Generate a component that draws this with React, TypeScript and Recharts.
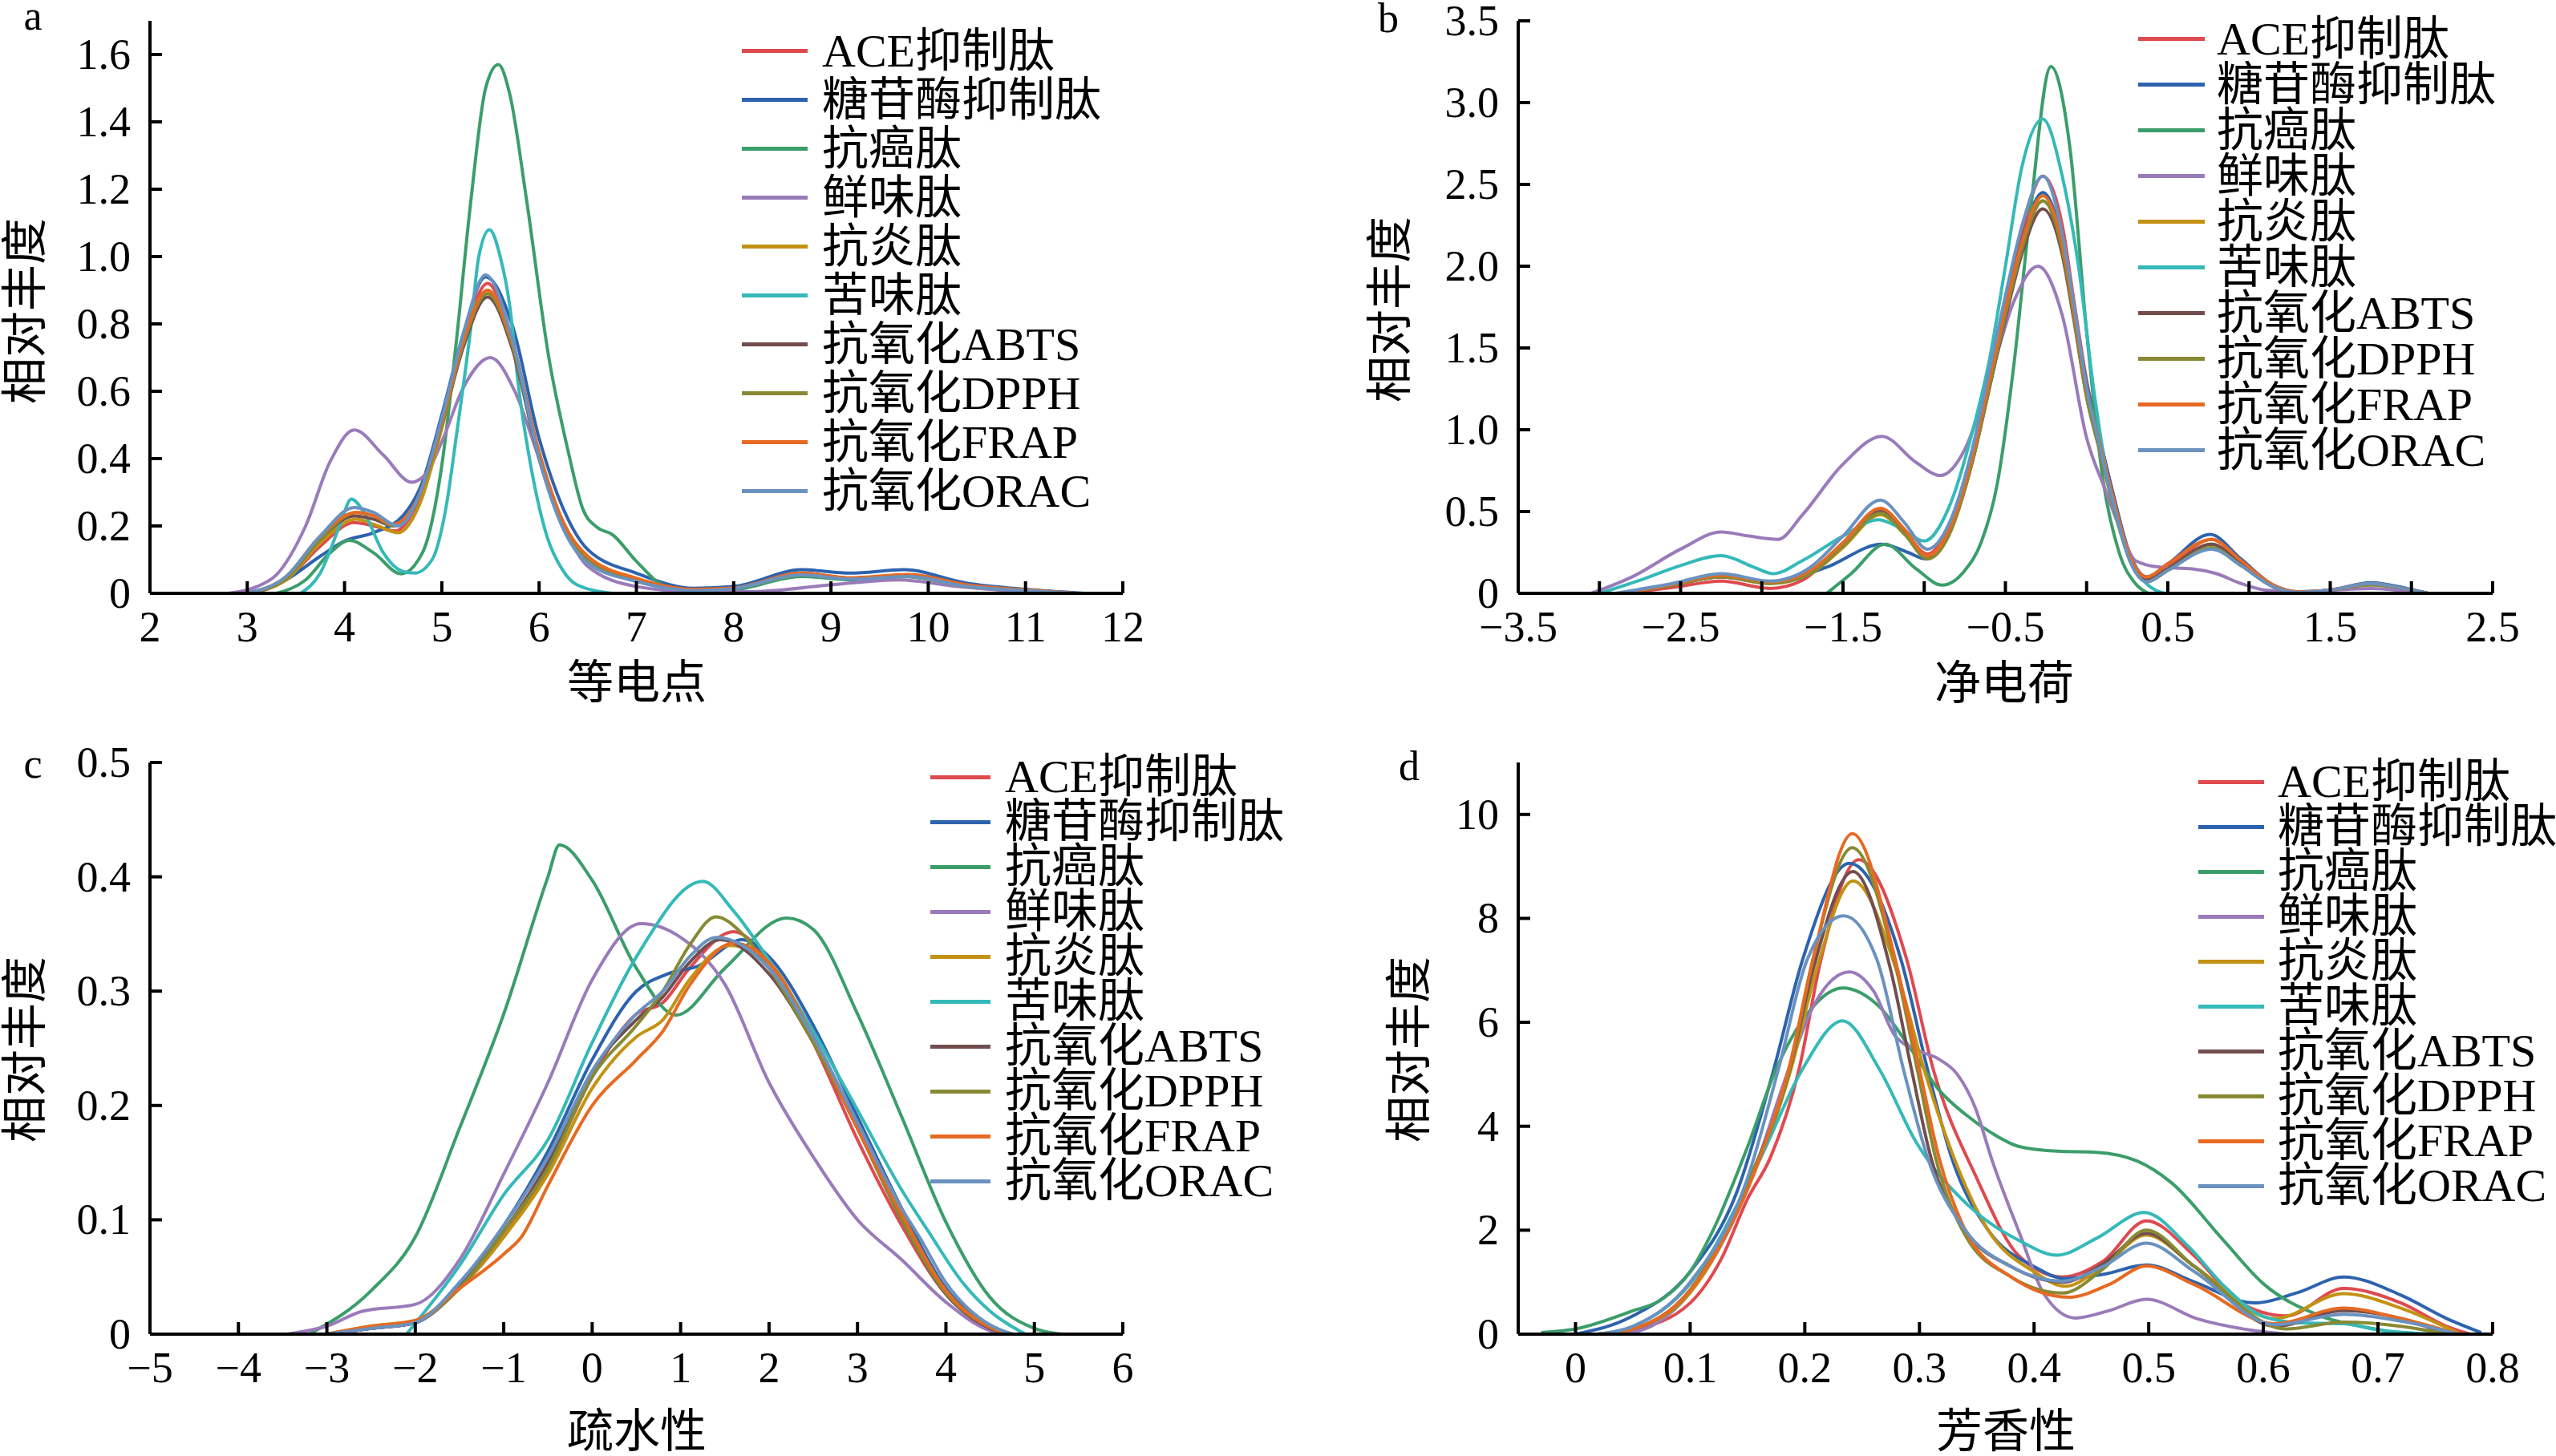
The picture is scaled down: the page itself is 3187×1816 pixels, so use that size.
import React from 'react';
import { LineChart, Line, XAxis, YAxis, Legend } from 'recharts';

// ---------- series meta ----------
const seriesNames = ['ACE抑制肽', '糖苷酶抑制肽', '抗癌肽', '鲜味肽', '抗炎肽', '苦味肽', '抗氧化ABTS', '抗氧化DPPH', '抗氧化FRAP', '抗氧化ORAC'];
const seriesColors = ['#DF4A4F', '#2D63AE', '#3B9E6A', '#9A7BBA', '#C39212', '#35B9B9', '#734E4F', '#878A33', '#E66A22', '#6A92C0'];

// ---------- panel a : 等电点 ----------
const aXTicks = [2, 3, 4, 5, 6, 7, 8, 9, 10, 11, 12];
const aYTicks = [0, 0.2, 0.4, 0.6, 0.8, 1.0, 1.2, 1.4, 1.6];
const aACE = [[3.0,0],[3.4,0.04],[3.75,0.14],[4.1,0.21],[4.3,0.2],[4.52,0.185],[4.75,0.27],[5.0,0.5],[5.22,0.75],[5.47,0.92],[5.72,0.75],[6.0,0.41],[6.25,0.21],[6.5,0.1],[7.0,0.04],[7.6,0.01],[8.0,0.015],[8.7,0.06],[9.2,0.045],[9.8,0.055],[10.4,0.025],[11.0,0.01],[11.5,0]];
const aGlu = [[3.0,0],[3.4,0.04],[3.75,0.11],[4.0,0.155],[4.3,0.18],[4.6,0.23],[4.8,0.33],[5.0,0.53],[5.22,0.77],[5.45,0.94],[5.72,0.8],[6.0,0.46],[6.25,0.25],[6.5,0.13],[7.0,0.06],[7.6,0.015],[8.0,0.02],[8.7,0.07],[9.2,0.06],[9.75,0.07],[10.4,0.03],[11.0,0.012],[11.6,0]];
const aCancer = [[3.3,0],[3.6,0.04],[3.85,0.12],[4.05,0.157],[4.3,0.12],[4.58,0.058],[4.8,0.12],[5.0,0.38],[5.15,0.75],[5.3,1.17],[5.45,1.5],[5.58,1.57],[5.7,1.48],[5.87,1.17],[6.1,0.7],[6.3,0.42],[6.45,0.25],[6.6,0.195],[6.75,0.175],[7.0,0.095],[7.3,0.02],[7.6,0.005],[8.0,0.01],[8.7,0.05],[9.2,0.04],[9.75,0.05],[10.4,0.02],[11.0,0.005],[11.3,0]];
const aUmami = [[2.8,0],[3.1,0.02],[3.3,0.055],[3.6,0.2],[3.85,0.39],[4.1,0.485],[4.4,0.41],[4.69,0.33],[4.85,0.36],[5.0,0.45],[5.22,0.61],[5.5,0.70],[5.75,0.6],[6.0,0.4],[6.25,0.2],[6.5,0.08],[7.0,0.02],[7.6,0.005],[8.2,0.005],[9.0,0.025],[9.7,0.04],[10.3,0.02],[11.0,0.005],[11.5,0]];
const aAntiInf = [[3.0,0],[3.4,0.04],[3.75,0.15],[4.12,0.22],[4.3,0.205],[4.55,0.18],[4.78,0.27],[5.0,0.49],[5.22,0.74],[5.47,0.9],[5.72,0.74],[6.0,0.4],[6.25,0.2],[6.5,0.1],[7.0,0.04],[7.6,0.01],[8.0,0.015],[8.7,0.055],[9.2,0.045],[9.8,0.05],[10.4,0.02],[11.0,0.01],[11.5,0]];
const aBitter = [[3.55,0],[3.75,0.06],[3.95,0.2],[4.07,0.28],[4.2,0.24],[4.4,0.12],[4.6,0.065],[4.72,0.06],[4.9,0.1],[5.04,0.25],[5.16,0.49],[5.29,0.77],[5.38,1.0],[5.49,1.08],[5.6,1.0],[5.7,0.85],[5.79,0.61],[5.92,0.37],[6.08,0.17],[6.24,0.07],[6.39,0.025],[6.75,0]];
const aABTS = [[3.0,0],[3.4,0.045],[3.75,0.16],[4.1,0.23],[4.3,0.22],[4.5,0.2],[4.75,0.28],[5.0,0.5],[5.22,0.73],[5.47,0.88],[5.72,0.73],[6.0,0.4],[6.25,0.2],[6.5,0.1],[7.0,0.04],[7.6,0.01],[8.0,0.015],[8.7,0.058],[9.2,0.045],[9.8,0.052],[10.4,0.022],[11.0,0.01],[11.5,0]];
const aDPPH = [[3.0,0],[3.4,0.045],[3.75,0.16],[4.12,0.24],[4.3,0.23],[4.5,0.2],[4.75,0.28],[5.0,0.5],[5.22,0.74],[5.47,0.89],[5.72,0.74],[6.0,0.41],[6.25,0.2],[6.5,0.1],[7.0,0.04],[7.6,0.01],[8.0,0.015],[8.7,0.056],[9.2,0.044],[9.8,0.05],[10.4,0.02],[11.0,0.01],[11.5,0]];
const aFRAP = [[3.0,0],[3.4,0.05],[3.75,0.17],[4.12,0.24],[4.3,0.23],[4.5,0.205],[4.75,0.28],[5.0,0.51],[5.22,0.75],[5.47,0.9],[5.72,0.75],[6.0,0.42],[6.25,0.21],[6.5,0.11],[7.0,0.045],[7.6,0.012],[8.0,0.016],[8.7,0.06],[9.2,0.046],[9.8,0.056],[10.4,0.025],[11.0,0.01],[11.5,0]];
const aORAC = [[3.0,0],[3.4,0.05],[3.75,0.17],[4.1,0.255],[4.3,0.24],[4.55,0.2],[4.78,0.3],[5.0,0.52],[5.22,0.77],[5.45,0.945],[5.72,0.76],[6.0,0.4],[6.25,0.19],[6.5,0.09],[7.0,0.035],[7.6,0.008],[8.0,0.014],[8.7,0.055],[9.2,0.042],[9.8,0.05],[10.4,0.02],[11.0,0.008],[11.5,0]];

// ---------- panel b : 净电荷 ----------
const bXTicks = [-3.5, -3, -2.5, -2, -1.5, -1, -0.5, 0, 0.5, 1, 1.5, 2, 2.5];
const bXLabels = [-3.5, -2.5, -1.5, -0.5, 0.5, 1.5, 2.5];
const bYTicks = [0, 0.5, 1.0, 1.5, 2.0, 2.5, 3.0, 3.5];
const bACE = [[-2.85,0],[-2.55,0.035],[-2.25,0.075],[-1.95,0.03],[-1.75,0.08],[-1.55,0.25],[-1.27,0.5],[-1.12,0.38],[-0.98,0.24],[-0.85,0.4],[-0.7,0.86],[-0.6,1.3],[-0.5,1.75],[-0.4,2.2],[-0.27,2.55],[-0.15,2.25],[-0.08,1.8],[0,1.3],[0.08,0.95],[0.16,0.62],[0.27,0.22],[0.37,0.09],[0.5,0.16],[0.77,0.33],[0.95,0.19],[1.15,0.04],[1.3,0.005],[1.5,0.02],[1.75,0.06],[1.95,0.03],[2.1,0]];
const bGlu = [[-2.85,0],[-2.55,0.05],[-2.25,0.1],[-1.95,0.065],[-1.6,0.16],[-1.26,0.3],[-1.1,0.25],[-0.99,0.21],[-0.85,0.38],[-0.7,0.88],[-0.6,1.32],[-0.5,1.75],[-0.4,2.15],[-0.27,2.45],[-0.15,2.15],[-0.08,1.75],[0,1.28],[0.08,0.95],[0.16,0.62],[0.27,0.23],[0.37,0.1],[0.5,0.18],[0.76,0.36],[0.95,0.21],[1.15,0.05],[1.3,0.01],[1.5,0.02],[1.75,0.065],[1.95,0.035],[2.1,0]];
const bCancer = [[-1.6,0],[-1.45,0.12],[-1.24,0.3],[-1.05,0.15],[-0.89,0.05],[-0.75,0.14],[-0.65,0.31],[-0.55,0.67],[-0.45,1.38],[-0.35,2.3],[-0.22,3.22],[-0.1,2.7],[0,1.6],[0.1,0.7],[0.2,0.25],[0.3,0.06],[0.38,0]];
const bUmami = [[-3.05,0],[-2.8,0.1],[-2.5,0.27],[-2.25,0.375],[-2.08,0.35],[-1.9,0.33],[-1.75,0.48],[-1.5,0.79],[-1.26,0.96],[-1.05,0.8],[-0.9,0.72],[-0.75,0.88],[-0.6,1.3],[-0.45,1.78],[-0.3,2.0],[-0.15,1.7],[0,0.95],[0.12,0.62],[0.2,0.41],[0.3,0.2],[0.45,0.16],[0.65,0.15],[0.8,0.12],[0.95,0.06],[1.1,0.02],[1.3,0.01],[1.75,0.03],[2.05,0]];
const bAntiInf = [[-2.85,0],[-2.55,0.05],[-2.25,0.1],[-1.95,0.06],[-1.7,0.12],[-1.5,0.28],[-1.27,0.48],[-1.12,0.36],[-0.98,0.22],[-0.85,0.36],[-0.7,0.82],[-0.6,1.25],[-0.5,1.7],[-0.4,2.1],[-0.27,2.4],[-0.15,2.1],[-0.08,1.7],[0,1.22],[0.08,0.9],[0.16,0.58],[0.27,0.2],[0.37,0.08],[0.5,0.15],[0.77,0.3],[0.95,0.18],[1.15,0.04],[1.3,0.005],[1.5,0.02],[1.75,0.055],[1.95,0.03],[2.1,0]];
const bBitter = [[-3.0,0],[-2.75,0.08],[-2.5,0.17],[-2.25,0.23],[-2.05,0.16],[-1.93,0.12],[-1.75,0.2],[-1.5,0.35],[-1.28,0.45],[-1.15,0.4],[-1.0,0.32],[-0.85,0.52],[-0.7,1.0],[-0.6,1.42],[-0.5,2.0],[-0.4,2.6],[-0.27,2.9],[-0.15,2.55],[-0.05,2.0],[0.05,1.2],[0.15,0.6],[0.25,0.25],[0.35,0.08],[0.48,0]];
const bABTS = [[-2.85,0],[-2.55,0.05],[-2.25,0.1],[-1.95,0.065],[-1.7,0.13],[-1.5,0.3],[-1.27,0.5],[-1.12,0.37],[-0.98,0.22],[-0.85,0.36],[-0.7,0.82],[-0.6,1.25],[-0.5,1.68],[-0.4,2.07],[-0.27,2.35],[-0.15,2.07],[-0.08,1.68],[0,1.2],[0.08,0.88],[0.16,0.57],[0.27,0.2],[0.37,0.08],[0.5,0.15],[0.77,0.3],[0.95,0.18],[1.15,0.04],[1.3,0.005],[1.5,0.02],[1.75,0.055],[1.95,0.03],[2.1,0]];
const bDPPH = [[-2.85,0],[-2.55,0.05],[-2.25,0.1],[-1.95,0.06],[-1.7,0.12],[-1.5,0.29],[-1.27,0.49],[-1.12,0.36],[-0.98,0.21],[-0.85,0.35],[-0.7,0.82],[-0.6,1.26],[-0.5,1.7],[-0.4,2.1],[-0.27,2.4],[-0.15,2.1],[-0.08,1.7],[0,1.2],[0.08,0.87],[0.16,0.55],[0.27,0.19],[0.37,0.07],[0.5,0.14],[0.77,0.28],[0.95,0.17],[1.15,0.04],[1.3,0.005],[1.5,0.02],[1.75,0.05],[1.95,0.03],[2.1,0]];
const bFRAP = [[-2.85,0],[-2.55,0.055],[-2.25,0.11],[-1.95,0.07],[-1.7,0.14],[-1.5,0.31],[-1.27,0.52],[-1.12,0.39],[-0.98,0.23],[-0.85,0.38],[-0.7,0.85],[-0.6,1.3],[-0.5,1.74],[-0.4,2.14],[-0.27,2.43],[-0.15,2.14],[-0.08,1.74],[0,1.25],[0.08,0.92],[0.16,0.6],[0.27,0.22],[0.37,0.1],[0.5,0.18],[0.77,0.33],[0.95,0.2],[1.15,0.05],[1.3,0.008],[1.5,0.02],[1.75,0.06],[1.95,0.03],[2.1,0]];
const bORAC = [[-2.9,0],[-2.55,0.06],[-2.25,0.12],[-1.95,0.075],[-1.7,0.16],[-1.5,0.35],[-1.27,0.57],[-1.12,0.43],[-0.98,0.27],[-0.85,0.42],[-0.7,0.9],[-0.6,1.36],[-0.5,1.82],[-0.4,2.24],[-0.27,2.55],[-0.15,2.2],[-0.08,1.78],[0,1.26],[0.08,0.9],[0.16,0.57],[0.27,0.19],[0.37,0.07],[0.5,0.14],[0.77,0.27],[0.95,0.17],[1.15,0.04],[1.3,0.005],[1.5,0.02],[1.75,0.06],[1.95,0.03],[2.1,0]];

// ---------- panel c : 疏水性 ----------
const cXTicks = [-5, -4, -3, -2, -1, 0, 1, 2, 3, 4, 5, 6];
const cYTicks = [0, 0.1, 0.2, 0.3, 0.4, 0.5];
const cACE = [[-3.0,0],[-2.5,0.005],[-2.0,0.01],[-1.5,0.04],[-1.0,0.085],[-0.5,0.145],[0,0.225],[0.5,0.28],[0.8,0.29],[1.1,0.32],[1.6,0.352],[2.0,0.325],[2.5,0.255],[3.0,0.17],[3.5,0.095],[4.0,0.035],[4.5,0.006],[4.7,0]];
const cGlu = [[-3.0,0],[-2.5,0.005],[-2.0,0.01],[-1.5,0.045],[-1.0,0.095],[-0.5,0.16],[0,0.24],[0.5,0.3],[0.85,0.315],[1.2,0.322],[1.7,0.345],[2.0,0.33],[2.5,0.27],[3.0,0.19],[3.5,0.11],[4.0,0.04],[4.5,0.007],[4.75,0]];
const cCancer = [[-3.2,0],[-2.5,0.038],[-2.0,0.085],[-1.5,0.18],[-1.0,0.28],[-0.5,0.40],[-0.37,0.428],[0,0.397],[0.5,0.32],[0.95,0.279],[1.5,0.32],[2.2,0.364],[2.5,0.354],[3.0,0.28],[3.5,0.19],[4.0,0.098],[4.5,0.032],[5.0,0.005],[5.3,0]];
const cUmami = [[-3.45,0],[-3.0,0.007],[-2.6,0.02],[-2.0,0.026],[-1.5,0.065],[-1.0,0.14],[-0.5,0.22],[0,0.31],[0.55,0.359],[1.0,0.347],[1.5,0.306],[2.0,0.22],[2.5,0.155],[3.0,0.10],[3.5,0.065],[4.0,0.028],[4.5,0.003],[4.7,0]];
const cAntiInf = [[-3.0,0],[-2.5,0.007],[-2.0,0.012],[-1.5,0.04],[-1.0,0.085],[-0.5,0.14],[0,0.215],[0.5,0.26],[0.8,0.275],[1.1,0.31],[1.55,0.34],[2.0,0.325],[2.5,0.26],[3.0,0.18],[3.5,0.105],[4.0,0.038],[4.5,0.006],[4.75,0]];
const cBitter = [[-2.1,0],[-1.5,0.06],[-1.0,0.122],[-0.5,0.17],[0,0.255],[0.5,0.33],[1.25,0.396],[1.6,0.37],[2.0,0.327],[2.5,0.265],[3.0,0.196],[3.5,0.126],[3.8,0.09],[4.2,0.044],[4.5,0.02],[4.9,0]];
const cABTS = [[-3.0,0],[-2.5,0.005],[-2.0,0.01],[-1.5,0.042],[-1.0,0.09],[-0.5,0.15],[0,0.23],[0.5,0.275],[0.8,0.295],[1.1,0.325],[1.45,0.345],[2.0,0.315],[2.5,0.255],[3.0,0.18],[3.5,0.1],[4.0,0.035],[4.5,0.005],[4.7,0]];
const cDPPH = [[-3.0,0],[-2.5,0.006],[-2.0,0.011],[-1.5,0.04],[-1.0,0.09],[-0.5,0.145],[0,0.225],[0.5,0.27],[0.8,0.3],[1.1,0.34],[1.4,0.365],[1.7,0.35],[2.0,0.32],[2.5,0.255],[3.0,0.18],[3.5,0.1],[4.0,0.036],[4.5,0.006],[4.7,0]];
const cFRAP = [[-3.0,0],[-2.5,0.007],[-2.0,0.012],[-1.5,0.04],[-1.0,0.07],[-0.8,0.085],[-0.5,0.13],[0,0.2],[0.5,0.24],[0.8,0.265],[1.1,0.305],[1.6,0.342],[2.0,0.325],[2.5,0.26],[3.0,0.18],[3.5,0.105],[4.0,0.038],[4.5,0.006],[4.75,0]];
const cORAC = [[-3.0,0],[-2.5,0.005],[-2.0,0.01],[-1.5,0.045],[-1.0,0.095],[-0.5,0.155],[0,0.23],[0.5,0.28],[0.8,0.3],[1.1,0.33],[1.4,0.347],[2.0,0.32],[2.5,0.26],[3.0,0.185],[3.5,0.11],[3.7,0.085],[4.0,0.045],[4.5,0.008],[4.75,0]];

// ---------- panel d : 芳香性 ----------
const dXTicks = [0, 0.1, 0.2, 0.3, 0.4, 0.5, 0.6, 0.7, 0.8];
const dYTicks = [0, 2, 4, 6, 8, 10];
const dACE = [[0.02,0],[0.05,0.08],[0.1,0.6],[0.127,1.44],[0.15,2.6],[0.17,3.4],[0.195,5.1],[0.214,7.2],[0.247,9.13],[0.289,7.2],[0.312,5.1],[0.35,3.0],[0.387,1.5],[0.425,1.1],[0.46,1.4],[0.498,2.18],[0.54,1.5],[0.58,0.6],[0.62,0.35],[0.67,0.88],[0.72,0.6],[0.76,0.15],[0.78,0]];
const dGlu = [[0.0,0],[0.05,0.35],[0.1,1.2],[0.141,2.75],[0.173,5.1],[0.198,7.2],[0.239,9.06],[0.284,7.2],[0.307,5.1],[0.328,3.4],[0.36,2.0],[0.4,1.3],[0.427,1.07],[0.46,1.15],[0.498,1.33],[0.54,1.0],[0.592,0.6],[0.63,0.8],[0.67,1.1],[0.72,0.75],[0.76,0.3],[0.79,0.03]];
const dCancer = [[-0.03,0.03],[0.0,0.1],[0.05,0.45],[0.074,0.65],[0.1,1.2],[0.12,2.0],[0.15,3.6],[0.175,5.1],[0.2,6.1],[0.233,6.66],[0.265,6.3],[0.293,5.47],[0.317,4.7],[0.34,4.23],[0.363,3.87],[0.387,3.61],[0.42,3.52],[0.454,3.5],[0.49,3.33],[0.52,2.91],[0.565,1.81],[0.6,0.97],[0.65,0.35],[0.7,0.09],[0.72,0]];
const dUmami = [[0.04,0],[0.07,0.2],[0.1,0.8],[0.15,2.8],[0.186,5.1],[0.205,6.2],[0.239,6.97],[0.26,6.6],[0.279,5.73],[0.3,5.45],[0.317,5.29],[0.333,5.0],[0.349,4.34],[0.363,3.37],[0.387,1.96],[0.409,0.76],[0.436,0.31],[0.465,0.45],[0.498,0.67],[0.543,0.29],[0.588,0.08],[0.62,0]];
const dAntiInf = [[0.02,0],[0.05,0.1],[0.1,0.8],[0.15,2.8],[0.188,5.1],[0.21,7.0],[0.242,8.72],[0.28,7.0],[0.304,5.1],[0.33,3.4],[0.36,2.0],[0.4,1.2],[0.427,0.92],[0.46,1.3],[0.498,1.91],[0.54,1.3],[0.61,0.3],[0.67,0.78],[0.72,0.5],[0.77,0.02]];
const dBitter = [[0.02,0],[0.05,0.15],[0.1,0.97],[0.161,3.37],[0.198,5.1],[0.233,6.03],[0.265,5.1],[0.297,3.7],[0.342,2.49],[0.387,1.8],[0.42,1.52],[0.455,1.85],[0.496,2.34],[0.534,1.7],[0.566,0.92],[0.6,0.34],[0.63,0.22],[0.67,0.2],[0.7,0.08],[0.75,0]];
const dABTS = [[0.02,0],[0.05,0.1],[0.1,0.85],[0.15,2.9],[0.187,5.1],[0.207,7.0],[0.242,8.9],[0.275,7.0],[0.293,5.1],[0.31,3.4],[0.34,2.0],[0.38,1.3],[0.425,1.0],[0.46,1.35],[0.498,1.94],[0.54,1.3],[0.61,0.15],[0.67,0.45],[0.72,0.3],[0.76,0]];
const dDPPH = [[0.02,0],[0.05,0.1],[0.1,0.85],[0.15,2.9],[0.187,5.1],[0.207,7.2],[0.2415,9.36],[0.278,7.2],[0.298,5.1],[0.314,3.4],[0.34,1.9],[0.38,1.1],[0.425,0.79],[0.46,1.25],[0.498,2.0],[0.54,1.3],[0.62,0.1],[0.67,0.23],[0.72,0.15],[0.76,0]];
const dFRAP = [[0.02,0],[0.05,0.1],[0.1,0.85],[0.161,3.4],[0.186,5.1],[0.207,7.2],[0.2415,9.63],[0.279,7.2],[0.3,5.1],[0.317,3.4],[0.34,2.0],[0.38,1.1],[0.431,0.71],[0.465,0.95],[0.498,1.31],[0.54,0.95],[0.61,0.2],[0.67,0.5],[0.72,0.3],[0.77,0]];
const dORAC = [[0.02,0],[0.05,0.15],[0.1,1.0],[0.15,3.0],[0.177,5.1],[0.202,7.2],[0.234,8.05],[0.263,7.2],[0.286,5.1],[0.307,3.4],[0.34,2.0],[0.38,1.3],[0.425,1.02],[0.46,1.3],[0.498,1.75],[0.54,1.2],[0.61,0.18],[0.67,0.38],[0.72,0.25],[0.77,0]];

// ---------- styling / layout ----------
const FONT = "'Liberation Serif', 'Times New Roman', 'Noto Sans CJK SC', serif";
const TICK_FS = 54;
const LABEL_FS = 58;

const minus = (s: string) => s.replace('-', '\u2212');
const fmtInt = (v: number) => minus(String(v));
const fmt1 = (v: number) => (v === 0 ? '0' : minus(v.toFixed(1)));

const toPts = (arr: number[][]) => arr.map(([x, y]) => ({ x, y }));

const panels = [
  {
    key: 'a', left: 0, top: 0, w: 1600, h: 900,
    margin: { top: 26, right: 200, bottom: 100, left: 87 },
    xDomain: [2, 12], xTicks: aXTicks, xFmt: fmtInt, xLabeled: (v: number) => true,
    yDomain: [0, 1.7], yTicks: aYTicks, yFmt: fmt1,
    series: [aACE, aGlu, aCancer, aUmami, aAntiInf, aBitter, aABTS, aDPPH, aFRAP, aORAC],
    legend: { left: 925, top: 33, rowH: 61, lineW: 82, gap: 18 },
  },
  {
    key: 'b', left: 1700, top: 0, w: 1487, h: 900,
    margin: { top: 26, right: 79, bottom: 100, left: 93 },
    xDomain: [-3.5, 2.5], xTicks: bXTicks, xFmt: fmt1, xLabeled: (v: number) => bXLabels.includes(v),
    yDomain: [0, 3.5], yTicks: bYTicks, yFmt: fmt1,
    series: [bACE, bGlu, bCancer, bUmami, bAntiInf, bBitter, bABTS, bDPPH, bFRAP, bORAC],
    legend: { left: 966, top: 20, rowH: 57, lineW: 83, gap: 15 },
  },
  {
    key: 'c', left: 0, top: 900, w: 1700, h: 916,
    margin: { top: 51, right: 300, bottom: 92, left: 87 },
    xDomain: [-5, 6], xTicks: cXTicks, xFmt: fmtInt, xLabeled: (v: number) => true,
    yDomain: [0, 0.5], yTicks: cYTicks, yFmt: fmt1,
    series: [cACE, cGlu, cCancer, cUmami, cAntiInf, cBitter, cABTS, cDPPH, cFRAP, cORAC],
    legend: { left: 1160, top: 41, rowH: 56, lineW: 75, gap: 18 },
  },
  {
    key: 'd', left: 1700, top: 900, w: 1487, h: 916,
    margin: { top: 51, right: 79, bottom: 92, left: 93 },
    xDomain: [-0.05, 0.8], xTicks: dXTicks, xFmt: fmt1, xLabeled: (v: number) => true,
    yDomain: [0, 11], yTicks: dYTicks, yFmt: fmtInt,
    series: [dACE, dGlu, dCancer, dUmami, dAntiInf, dBitter, dABTS, dDPPH, dFRAP, dORAC],
    legend: { left: 1041, top: 47, rowH: 56, lineW: 82, gap: 17 },
  },
];

// baseline-positioned texts (panel letters) and centred texts (axis titles)
const letterLabels = [
  { t: 'a', x: 41, y: 37 },
  { t: 'b', x: 1731, y: 40 },
  { t: 'c', x: 41, y: 970 },
  { t: 'd', x: 1757, y: 973 },
];
const titleLabels = [
  { t: '等电点', x: 794, y: 851, rot: false },
  { t: '净电荷', x: 2499, y: 852, rot: false },
  { t: '疏水性', x: 794, y: 1785, rot: false },
  { t: '芳香性', x: 2501, y: 1785, rot: false },
  { t: '相对丰度', x: 31, y: 388, rot: true },
  { t: '相对丰度', x: 1733, y: 386, rot: true },
  { t: '相对丰度', x: 31, y: 1309, rot: true },
  { t: '相对丰度', x: 1757, y: 1309, rot: true },
];

const makeXTick = (fmt: (v: number) => string, labeled: (v: number) => boolean) => (props: any) => {
  const { x, y, payload } = props;
  const v = payload.value;
  return (
    <g>
      <line x1={x} y1={y} x2={x} y2={y - 15} stroke="#000" strokeWidth={4} />
      {labeled(v) ? (
        <text x={x} y={y + 42} textAnchor="middle" dominantBaseline="central" fontFamily={FONT} fontSize={TICK_FS} fill="#000">
          {fmt(v)}
        </text>
      ) : null}
    </g>
  );
};

const makeYTick = (fmt: (v: number) => string) => (props: any) => {
  const { x, y, payload } = props;
  const v = payload.value;
  return (
    <g>
      <line x1={x} y1={y} x2={x + 15} y2={y} stroke="#000" strokeWidth={4} />
      <text x={x - 24} y={y} textAnchor="end" dominantBaseline="central" fontFamily={FONT} fontSize={TICK_FS} fill="#000">
        {fmt(v)}
      </text>
    </g>
  );
};

const makeLegend = (lg: { rowH: number; lineW: number; gap: number }) => () => (
  <div style={{ display: 'flex', flexDirection: 'column' }}>
    {seriesNames.map((n, i) => (
      <div key={n} style={{ display: 'flex', alignItems: 'center', height: lg.rowH }}>
        <div style={{ width: lg.lineW, height: 5, background: seriesColors[i] }} />
        <span style={{ marginLeft: lg.gap, fontFamily: FONT, fontSize: LABEL_FS, lineHeight: 1, whiteSpace: 'nowrap', color: '#000' }}>
          {n}
        </span>
      </div>
    ))}
  </div>
);

function Panel({ p }: { p: any }) {
  return (
    <div style={{ position: 'absolute', left: p.left, top: p.top }}>
      <LineChart width={p.w} height={p.h} margin={p.margin}>
        <XAxis
          type="number"
          dataKey="x"
          domain={p.xDomain}
          ticks={p.xTicks}
          interval={0}
          allowDataOverflow
          height={60}
          tickSize={0}
          tickMargin={0}
          tickLine={false}
          axisLine={{ stroke: '#000', strokeWidth: 4 }}
          tick={makeXTick(p.xFmt, p.xLabeled)}
        />
        <YAxis
          type="number"
          domain={p.yDomain}
          ticks={p.yTicks}
          interval={0}
          allowDataOverflow
          width={100}
          tickSize={0}
          tickMargin={0}
          tickLine={false}
          axisLine={{ stroke: '#000', strokeWidth: 4 }}
          tick={makeYTick(p.yFmt)}
        />
        {p.series.map((s: number[][], i: number) => (
          <Line
            key={seriesNames[i]}
            data={toPts(s)}
            dataKey="y"
            name={seriesNames[i]}
            type="monotone"
            stroke={seriesColors[i]}
            strokeWidth={4}
            dot={false}
            activeDot={false}
            isAnimationActive={false}
          />
        ))}
        <Legend
          layout="vertical"
          align="center"
          verticalAlign="middle"
          wrapperStyle={{ left: p.legend.left, top: p.legend.top, width: 'auto' }}
          content={makeLegend(p.legend)}
        />
      </LineChart>
    </div>
  );
}

export default function App() {
  return (
    <div style={{ position: 'absolute', left: 0, top: 0, width: 3187, height: 1816, background: '#fff', overflow: 'hidden' }}>
      {panels.map((p) => (
        <Panel key={p.key} p={p} />
      ))}
      <svg width={3187} height={1816} style={{ position: 'absolute', left: 0, top: 0, pointerEvents: 'none' }}>
        {letterLabels.map((l, i) => (
          <text key={'l' + i} x={l.x} y={l.y} textAnchor="middle" fontFamily={FONT} fontSize={52} fill="#000">
            {l.t}
          </text>
        ))}
        {titleLabels.map((l, i) => (
          <text
            key={'t' + i}
            x={l.x}
            y={l.y}
            textAnchor="middle"
            dominantBaseline="central"
            fontFamily={FONT}
            fontSize={LABEL_FS}
            fill="#000"
            transform={l.rot ? `rotate(-90 ${l.x} ${l.y})` : undefined}
          >
            {l.t}
          </text>
        ))}
      </svg>
    </div>
  );
}
